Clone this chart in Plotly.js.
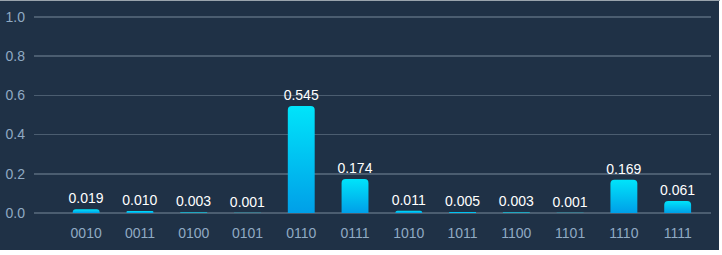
<!DOCTYPE html>
<html>
<head>
<meta charset="utf-8">
<script src="https://cdn.plot.ly/plotly-3.0.1.min.js"></script>
<style>
html,body{margin:0;padding:0;background:#ffffff;}
#top{position:absolute;left:0;top:0;width:720px;height:1px;background:#9aa4ad;}
#chart{position:absolute;left:0;top:1px;width:719px;height:249px;background:#1f3146;}
</style>
</head>
<body>
<div id="top"></div>
<div id="chart"></div>
<script>
const states = ["0010","0011","0100","0101","0110","0111","1010","1011","1100","1101","1110","1111"];
const probabilities = [0.019,0.010,0.003,0.001,0.545,0.174,0.011,0.005,0.003,0.001,0.169,0.061];
const yTicks = [0,0.2,0.4,0.6,0.8,1.0];
const yTickLabels = ["0.0","0.2","0.4","0.6","0.8","1.0"];

const FONT = "Liberation Sans, Arial, sans-serif";

const trace = {
  type: "bar",
  x: states,
  y: probabilities,
  text: probabilities.map(v => v.toFixed(3)),
  textposition: "outside",
  constraintext: "none",
  cliponaxis: false,
  textfont: {color: "#ffffff", size: 14, family: FONT},
  marker: {color: "#00c4f2", line: {width: 0}},
  width: 0.5,
  hoverinfo: "none"
};

const layout = {
  width: 719, height: 249,
  margin: {l: 34, r: 8, t: 10, b: 37},
  paper_bgcolor: "#1f3146",
  plot_bgcolor: "#1f3146",
  showlegend: false,
  barcornerradius: 4,
  font: {family: FONT, size: 14, color: "#90aac3"},
  xaxis: {
    type: "category",
    range: [-0.97, 11.62],
    showgrid: false, zeroline: false, showline: false,
    ticks: "", ticklen: 0,
    tickfont: {size: 14, color: "#90aac3", family: FONT},
    ticklabelstandoff: 10,
    fixedrange: true
  },
  yaxis: {
    range: [0, 1.03],
    tickvals: yTicks,
    ticktext: yTickLabels,
    showgrid: true, gridcolor: "#4b5d70", gridwidth: 1.5,
    zeroline: true, zerolinecolor: "#4b5d70", zerolinewidth: 1.5,
    showline: false, ticks: "",
    tickfont: {size: 14, color: "#90aac3", family: FONT},
    ticklabelstandoff: 8,
    fixedrange: true
  }
};

Plotly.newPlot("chart", [trace], layout, {staticPlot: true, displayModeBar: false}).then(gd => {
  const svg = gd.querySelector("svg.main-svg");
  const ns = "http://www.w3.org/2000/svg";
  let defs = svg.querySelector("defs");
  if (!defs) { defs = document.createElementNS(ns, "defs"); svg.insertBefore(defs, svg.firstChild); }
  const grad = document.createElementNS(ns, "linearGradient");
  grad.setAttribute("id", "barGrad");
  grad.setAttribute("x1", "0"); grad.setAttribute("y1", "0");
  grad.setAttribute("x2", "0"); grad.setAttribute("y2", "1");
  const s1 = document.createElementNS(ns, "stop");
  s1.setAttribute("offset", "0"); s1.setAttribute("stop-color", "#00e4fa");
  const s2 = document.createElementNS(ns, "stop");
  s2.setAttribute("offset", "1"); s2.setAttribute("stop-color", "#009fe8");
  grad.appendChild(s1); grad.appendChild(s2);
  defs.appendChild(grad);
  gd.querySelectorAll(".barlayer path").forEach(p => { p.style.fill = "url(#barGrad)"; });
});
</script>
</body>
</html>
